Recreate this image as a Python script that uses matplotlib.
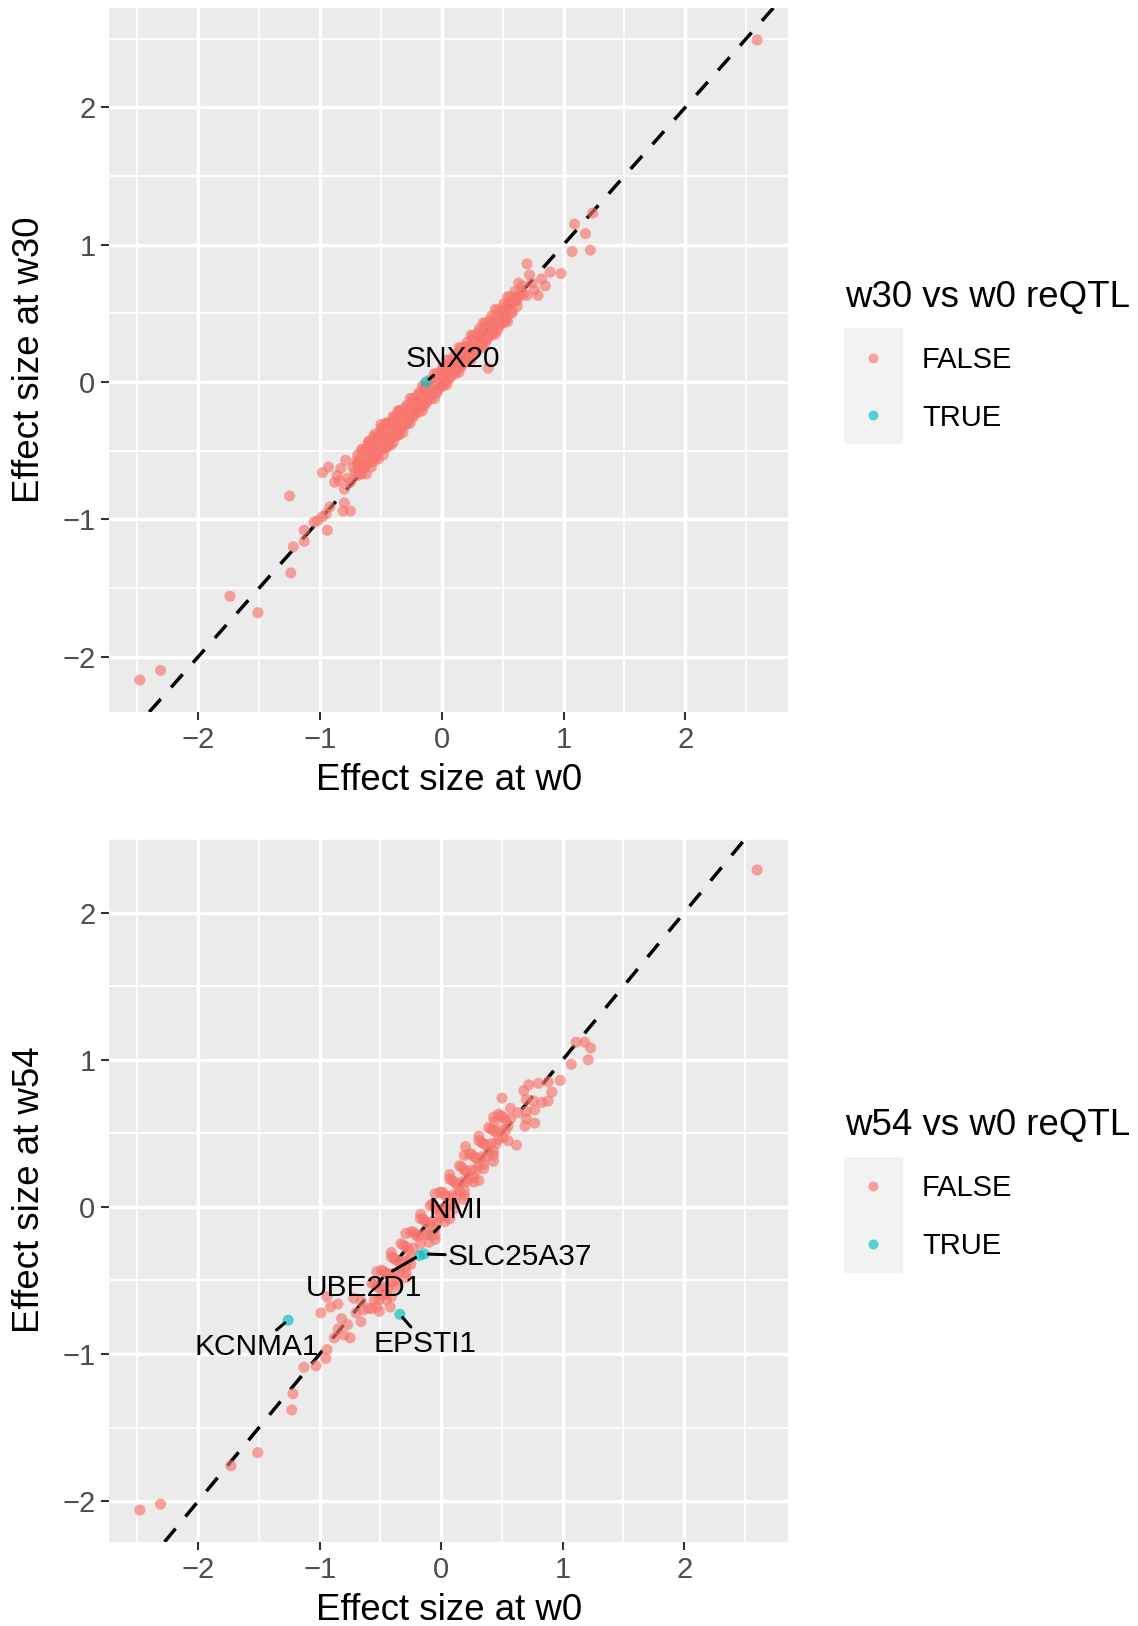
import numpy as np
import matplotlib.pyplot as plt
from matplotlib.patches import Rectangle
from matplotlib.lines import Line2D

plt.rcParams['font.family'] = ['Liberation Sans', 'DejaVu Sans']

# effect sizes, w30 vs w0 (non-significant reQTL)
w30_other = [
    (2.59, 2.49), (1.24, 1.23), (1.09, 1.15), (1.18, 1.08), (1.22, 0.96), (1.07, 0.95),
    (0.98, 0.79), (0.89, 0.80), (0.70, 0.86), (0.63, 0.72), (0.76, 0.67), (0.79, 0.63),
    (0.70, 0.63), (0.85, 0.70), (0.82, 0.75), (0.72, 0.78), (0.66, 0.70), (0.74, 0.72),
    (0.60, 0.66), (0.62, 0.60), (0.67, 0.64), (0.38, 0.10),
    (-0.70, -0.57), (-0.68, -0.66), (-0.65, -0.51), (-0.62, -0.60), (-0.60, -0.47),
    (-0.58, -0.56), (-0.55, -0.43), (-0.53, -0.51), (-0.50, -0.37), (-0.48, -0.47),
    (-0.45, -0.34), (-0.43, -0.42), (-0.40, -0.28), (-0.38, -0.38), (-0.35, -0.25),
    (-0.33, -0.33), (-0.30, -0.19), (-0.28, -0.29), (-0.25, -0.15), (-0.23, -0.24),
    (-0.20, -0.10), (-0.18, -0.19), (-0.15, -0.06), (-0.13, -0.15), (-0.10, -0.05),
    (-0.08, -0.10), (-0.05, 0.03), (-0.03, -0.06), (0.00, 0.08), (0.02, -0.01),
    (0.05, 0.12), (0.07, 0.04), (0.10, 0.17), (0.12, 0.09), (0.15, 0.22), (0.17, 0.13),
    (0.20, 0.26), (0.22, 0.18), (0.25, 0.31), (0.27, 0.22), (0.30, 0.36), (0.32, 0.27),
    (0.35, 0.40), (0.37, 0.31), (0.40, 0.45), (0.42, 0.36), (0.45, 0.49), (0.47, 0.41),
    (0.50, 0.54), (0.52, 0.45), (0.55, 0.58), (0.57, 0.50), (0.60, 0.62), (0.62, 0.55),
    (0.65, 0.66),
    (-0.66, -0.58), (-0.56, -0.49), (-0.46, -0.40), (-0.36, -0.30), (-0.26, -0.21),
    (-0.16, -0.12), (-0.06, -0.03), (0.04, 0.07), (0.14, 0.16), (0.24, 0.25),
    (0.34, 0.34), (0.44, 0.43), (0.54, 0.52), (-0.52, -0.56), (-0.42, -0.46),
    (-0.32, -0.37), (-0.60, -0.44), (-0.50, -0.34),
    (-0.67, -0.57), (-0.62, -0.53), (-0.57, -0.48), (-0.52, -0.43), (-0.47, -0.39),
    (-0.42, -0.34), (-0.37, -0.30), (-0.32, -0.25), (-0.27, -0.20), (-0.22, -0.16),
    (-0.17, -0.11), (-0.12, -0.08), (-0.02, 0.03), (0.03, 0.07), (0.08, 0.12),
    (0.13, 0.16), (0.18, 0.21), (0.23, 0.26), (0.28, 0.30), (0.33, 0.35), (0.38, 0.40),
    (0.43, 0.44), (0.48, 0.49), (0.53, 0.53), (0.58, 0.58), (0.63, 0.62),
    (-0.67, -0.64), (-0.62, -0.60), (-0.57, -0.55), (-0.52, -0.50), (-0.47, -0.46),
    (-0.42, -0.41), (-0.37, -0.37), (-0.32, -0.32), (-0.27, -0.27), (-0.22, -0.23),
    (-0.17, -0.18), (-0.12, -0.14), (-0.07, -0.09), (-0.02, -0.04), (0.03, 0.00),
    (0.08, 0.05), (0.13, 0.10), (0.18, 0.14), (0.23, 0.19), (0.28, 0.23), (0.33, 0.28),
    (0.38, 0.33), (0.43, 0.37), (0.48, 0.42), (0.53, 0.46), (0.58, 0.51),
    (-0.69, -0.53), (-0.64, -0.49), (-0.59, -0.44), (-0.54, -0.40), (-0.49, -0.35),
    (-0.44, -0.30), (-0.39, -0.26), (-0.34, -0.21), (-0.29, -0.17), (-0.24, -0.12),
    (-0.19, -0.08), (-0.14, -0.03), (-0.09, 0.02), (-0.04, 0.06), (0.01, 0.11),
    (0.06, 0.16), (0.11, 0.20), (0.16, 0.25), (0.21, 0.29), (0.26, 0.34), (0.31, 0.39),
    (0.36, 0.43), (0.41, 0.48), (0.46, 0.52), (0.51, 0.57), (0.56, 0.62),
    (-0.69, -0.68), (-0.64, -0.63), (-0.59, -0.58), (-0.54, -0.54), (-0.49, -0.49),
    (-0.44, -0.45), (-0.39, -0.40), (-0.34, -0.35), (-0.29, -0.31), (-0.24, -0.26),
    (-0.19, -0.22), (-0.14, -0.17), (-0.09, -0.12), (-0.04, -0.08), (0.01, -0.03),
    (0.06, 0.02), (0.11, 0.06), (0.16, 0.11), (0.21, 0.15), (0.26, 0.20), (0.31, 0.25),
    (0.36, 0.29), (0.41, 0.34), (0.46, 0.38), (0.51, 0.43),
    (-0.69, -0.60), (-0.59, -0.51), (-0.49, -0.42), (-0.39, -0.33), (-0.29, -0.24),
    (-0.19, -0.15), (-0.09, -0.05), (0.01, 0.04), (0.11, 0.13), (0.21, 0.22),
    (0.31, 0.32), (0.41, 0.41), (0.51, 0.50), (0.61, 0.59),
    (-0.66, -0.49), (-0.56, -0.40), (-0.46, -0.30), (-0.36, -0.21), (-0.26, -0.12),
    (-0.16, -0.03), (-0.06, 0.06), (0.04, 0.16), (0.14, 0.25), (0.24, 0.34),
    (0.34, 0.43), (0.44, 0.53), (0.54, 0.62),
    (-0.66, -0.67), (-0.56, -0.58), (-0.46, -0.48), (-0.36, -0.39), (-0.26, -0.30),
    (-0.16, -0.21), (-0.06, -0.12), (0.04, -0.02), (0.14, 0.07), (0.24, 0.16),
    (0.34, 0.25), (0.44, 0.35), (0.54, 0.44),
    (-0.55, -0.38), (-0.45, -0.30), (-0.40, -0.44), (-0.35, -0.21), (-0.58, -0.62),
    (-0.48, -0.53), (-0.60, -0.43), (-0.55, -0.55), (-0.50, -0.31), (-0.45, -0.47),
    (-0.40, -0.25), (-0.35, -0.38), (-0.62, -0.67), (-0.52, -0.40),
    (-1.25, -0.83), (-0.98, -0.66), (-0.93, -0.62), (-0.79, -0.57), (-0.88, -0.73),
    (-0.84, -0.72), (-0.80, -0.78), (-0.75, -0.73), (-0.71, -0.66), (-0.75, -0.94),
    (-0.81, -0.94), (-0.80, -0.88), (-0.92, -0.91), (-0.95, -0.96), (-0.98, -0.98),
    (-1.02, -1.01), (-0.94, -1.08), (-1.05, -1.02), (-1.13, -1.08), (-1.13, -1.16),
    (-1.22, -1.20), (-1.24, -1.39), (-1.51, -1.68), (-1.74, -1.56), (-2.31, -2.10),
    (-2.48, -2.17), (-0.86, -0.68), (-0.77, -0.70), (-0.73, -0.62), (-0.69, -0.60),
    (-0.83, -0.63),
]
w30_sig = [(-0.13, 0.00)]
w30_genes = ['SNX20']
w30_label_pos = [(0.09, 0.17)]

# effect sizes, w54 vs w0
w54_other = [
    (2.60, 2.29), (1.11, 1.12), (1.18, 1.12), (1.23, 1.08), (1.07, 0.97), (1.21, 1.00),
    (0.98, 0.86), (0.88, 0.85), (0.80, 0.84), (0.72, 0.83), (0.68, 0.79), (0.91, 0.78),
    (0.88, 0.72), (0.83, 0.71), (0.76, 0.72), (0.70, 0.73), (0.50, 0.74), (0.57, 0.67),
    (0.63, 0.64), (0.70, 0.65), (0.77, 0.66), (0.70, 0.60), (0.77, 0.57), (0.69, 0.55),
    (0.62, 0.42), (0.44, 0.58), (0.20, 0.41),
    (-0.55, -0.52), (-0.47, -0.44), (-0.39, -0.35), (-0.31, -0.26), (-0.23, -0.17),
    (-0.15, -0.08), (-0.07, 0.02), (0.01, 0.10), (0.09, 0.18), (0.17, 0.27), (0.25, 0.36),
    (0.33, 0.44), (0.41, 0.53), (0.49, 0.62),
    (-0.51, -0.55), (-0.43, -0.46), (-0.35, -0.37), (-0.27, -0.29), (-0.19, -0.20),
    (-0.11, -0.11), (-0.03, -0.02), (0.05, 0.07), (0.13, 0.15), (0.21, 0.24), (0.29, 0.33),
    (0.37, 0.42), (0.45, 0.51), (0.53, 0.59),
    (-0.57, -0.69), (-0.49, -0.60), (-0.41, -0.51), (-0.33, -0.42), (-0.25, -0.34),
    (-0.17, -0.25), (-0.09, -0.16), (-0.01, -0.07), (0.07, 0.01), (0.15, 0.11), (0.23, 0.19),
    (0.31, 0.28), (0.39, 0.37), (0.47, 0.46), (0.55, 0.55),
    (-0.45, -0.63), (-0.37, -0.54), (-0.29, -0.45), (-0.25, -0.39), (-0.10, -0.24),
    (-0.05, -0.19), (0.03, -0.10), (0.11, -0.01), (0.19, 0.08), (0.27, 0.17), (0.35, 0.26),
    (0.43, 0.35),
    (-0.53, -0.54), (-0.45, -0.45), (-0.37, -0.36), (-0.29, -0.27), (-0.21, -0.19),
    (-0.13, -0.10), (-0.05, -0.01), (0.03, 0.08), (0.11, 0.17), (0.19, 0.25), (0.27, 0.34),
    (0.35, 0.43), (0.43, 0.52), (0.51, 0.61),
    (-0.53, -0.68), (-0.45, -0.59), (-0.37, -0.50), (-0.29, -0.41), (-0.05, -0.15),
    (0.03, -0.06), (0.11, 0.03), (0.19, 0.11), (0.27, 0.20), (0.35, 0.29), (0.43, 0.38),
    (0.51, 0.47),
    (-0.55, -0.63), (-0.47, -0.54), (-0.39, -0.45), (-0.31, -0.37), (-0.23, -0.28),
    (-0.15, -0.19), (-0.07, -0.10), (0.01, -0.01), (0.09, 0.08), (0.17, 0.17),
    (0.25, 0.25), (0.33, 0.34), (0.41, 0.43), (0.49, 0.52), (0.57, 0.60),
    (-0.57, -0.52), (-0.49, -0.43), (-0.41, -0.34), (-0.33, -0.25), (-0.25, -0.17),
    (-0.17, -0.08), (-0.09, 0.01), (-0.01, 0.10), (0.07, 0.19), (0.15, 0.28),
    (0.23, 0.36), (0.31, 0.45), (0.39, 0.54), (0.47, 0.63),
    (-0.51, -0.63), (-0.43, -0.54), (-0.35, -0.45), (-0.27, -0.36), (-0.11, -0.19),
    (-0.03, -0.10), (0.05, -0.01), (0.13, 0.08), (0.21, 0.17), (0.29, 0.25),
    (0.37, 0.34), (0.45, 0.43), (0.53, 0.52),
    (-0.53, -0.44), (-0.41, -0.31), (-0.29, -0.18), (-0.17, -0.05), (-0.05, 0.09),
    (0.07, 0.22), (0.19, 0.35), (0.31, 0.48), (0.43, 0.61),
    (-0.41, -0.61), (-0.29, -0.48), (-0.05, -0.22), (0.07, -0.08), (0.19, 0.05),
    (0.31, 0.18), (0.43, 0.31), (0.55, 0.45),
    (-0.99, -0.72), (-0.91, -0.68), (-0.51, -0.71), (-0.42, -0.68), (-0.94, -0.97),
    (-0.95, -1.03), (-1.03, -1.08), (-1.13, -1.09), (-1.22, -1.27), (-1.23, -1.38),
    (-0.85, -0.83), (-0.75, -0.89), (-0.80, -0.87), (-0.88, -0.89), (-0.77, -0.80),
    (-0.66, -0.78), (-0.60, -0.69), (-0.94, -0.61), (-0.85, -0.66), (-0.66, -0.64),
    (-0.70, -0.72), (-0.82, -0.76), (-0.72, -0.62), (-0.64, -0.70),
    (-1.51, -1.67), (-1.73, -1.76), (-2.31, -2.02), (-2.48, -2.06),
]
w54_sig = [(-0.08, -0.19), (-0.14, -0.32), (-0.18, -0.33), (-0.34, -0.73), (-1.26, -0.77)]
w54_genes = ['NMI', 'SLC25A37', 'UBE2D1', 'EPSTI1', 'KCNMA1']
w54_label_pos = [(0.12, -0.02), (0.65, -0.34), (-0.64, -0.55), (-0.13, -0.93), (-1.52, -0.95)]

tick_vals = [-2, -1, 0, 1, 2]
tick_labels = ['\u22122', '\u22121', '0', '1', '2']
minor_vals = [-2.5, -1.5, -0.5, 0.5, 1.5, 2.5]

RED = '#F8766D'
TEAL = '#00BFC4'
ALPHA = 0.65
PT_SIZE = 64

W, H = 1138, 1626
fig = plt.figure(figsize=(W / 100, H / 100), dpi=100)
fig.patch.set_facecolor('white')


def fx(px):
    return px / W


def fy(py):
    return 1 - py / H


def expand(vals):
    lo, hi = min(vals), max(vals)
    pad = (hi - lo) * 0.05
    return lo - pad, hi + pad


def panel(top, bottom, other, sig, genes, label_pos, ylab, leg_title, leg_y, sig_first):
    ax = fig.add_axes([fx(109), fy(bottom), fx(788) - fx(109), (bottom - top) / H])
    ax.set_facecolor('#EBEBEB')
    for s in ax.spines.values():
        s.set_visible(False)
    ax.set_axisbelow(True)

    ax.set_xticks(tick_vals)
    ax.set_xticklabels(tick_labels)
    ax.set_yticks(tick_vals)
    ax.set_yticklabels(tick_labels)
    ax.set_xticks(minor_vals, minor=True)
    ax.set_yticks(minor_vals, minor=True)

    # limits after the ticks, so the minor breaks don't widen the range
    allx = [p[0] for p in other + sig]
    ally = [p[1] for p in other + sig]
    ax.set_xlim(*expand(allx))
    ax.set_ylim(*expand(ally))

    ax.grid(which='major', color='white', lw=2.5)
    ax.grid(which='minor', color='white', lw=1.25)
    ax.tick_params(which='major', length=5.8, width=1.5, color='#333333',
                   labelcolor='#4D4D4D', labelsize=21, pad=4)
    ax.tick_params(which='minor', length=0)

    ax.axline((0, 0), slope=1, color='black', lw=2.5, linestyle=(0, (5, 4.5)), zorder=2)

    sx, sy = zip(*sig)
    ox, oy = zip(*other)
    sig_z = 3 if sig_first else 4
    ax.scatter(sx, sy, s=PT_SIZE, color=TEAL, alpha=ALPHA, edgecolors='none', zorder=sig_z)
    ax.scatter(ox, oy, s=PT_SIZE, color=RED, alpha=ALPHA, edgecolors='none', zorder=3.5)

    for g, p, lp in zip(genes, sig, label_pos):
        ax.annotate(g, xy=p, xytext=lp, ha='center', va='center', fontsize=21.5,
                    arrowprops=dict(arrowstyle='-', color='black', lw=2.2,
                                    shrinkA=0, shrinkB=3), zorder=5)

    mid = (top + bottom) / 2
    fig.text(fx(30), fy(mid), ylab, rotation=90, ha='center', va='center', fontsize=26.4)
    fig.text(fx(449), fy(bottom + 78), 'Effect size at w0', ha='center', va='baseline',
             fontsize=26.4)

    # legend
    fig.text(fx(845), fy(leg_y), leg_title, ha='left', va='baseline', fontsize=26.4)
    fig.add_artist(Rectangle((fx(844), fy(leg_y + 137.5)), fx(59), 116 / H,
                             facecolor='#F2F2F2', edgecolor='none',
                             transform=fig.transFigure))
    for i, (lab, col) in enumerate([('FALSE', RED), ('TRUE', TEAL)]):
        ky = leg_y + 51 + i * 57.6
        fig.add_artist(Line2D([fx(873)], [fy(ky)], marker='o', ms=7.2, color=col,
                              alpha=ALPHA, markeredgewidth=0, linestyle='none',
                              transform=fig.transFigure))
        fig.text(fx(922), fy(ky + 10.5), lab, ha='left', va='baseline', fontsize=21)
    return ax


panel(8, 712, w30_other, w30_sig, w30_genes, w30_label_pos,
      'Effect size at w30', 'w30 vs w0 reQTL', 306.7, sig_first=False)
panel(838, 1542, w54_other, w54_sig, w54_genes, w54_label_pos,
      'Effect size at w54', 'w54 vs w0 reQTL', 1135, sig_first=True)

fig.savefig('out.png', dpi=100)
